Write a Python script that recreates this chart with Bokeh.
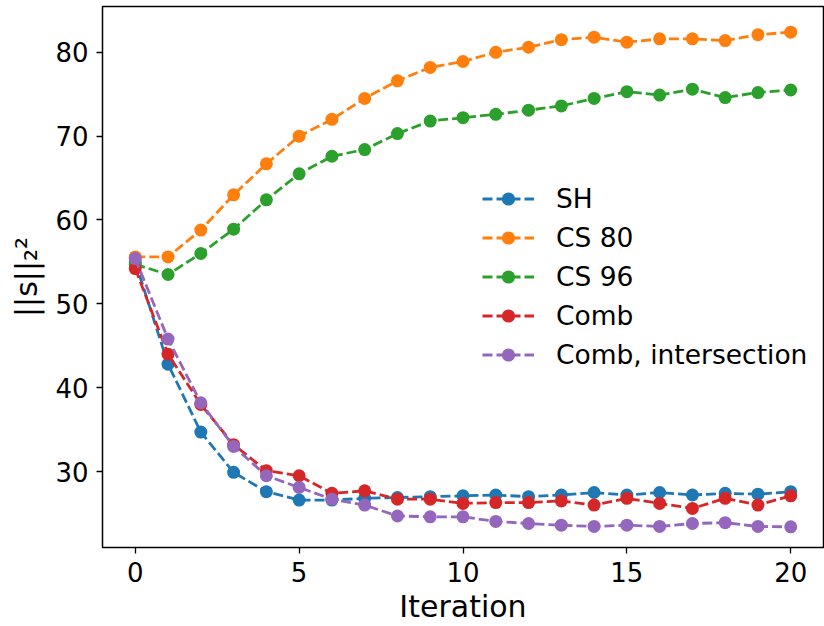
from bokeh.plotting import figure
from bokeh.models import Range1d, FixedTicker, Legend, LegendItem
from bokeh.embed import file_html
from bokeh.resources import INLINE

iterations = list(range(21))
sh = [55.0, 42.8, 34.7, 29.9, 27.6, 26.6, 26.6, 26.8, 26.9, 27.0, 27.1,
      27.2, 27.0, 27.2, 27.5, 27.2, 27.5, 27.2, 27.4, 27.3, 27.6]
cs80 = [55.6, 55.6, 58.8, 63.0, 66.7, 70.0, 72.0, 74.5, 76.6, 78.2, 78.9,
        80.0, 80.6, 81.5, 81.8, 81.2, 81.6, 81.6, 81.4, 82.1, 82.4]
cs96 = [54.7, 53.5, 56.0, 58.9, 62.4, 65.5, 67.6, 68.4, 70.3, 71.8, 72.2,
        72.6, 73.1, 73.6, 74.5, 75.3, 74.9, 75.6, 74.6, 75.2, 75.5]
comb = [54.2, 44.0, 38.0, 33.2, 30.1, 29.5, 27.4, 27.7, 26.7, 26.7, 26.2,
        26.3, 26.3, 26.5, 26.0, 26.8, 26.2, 25.6, 26.8, 26.0, 27.1]
comb_int = [55.4, 45.8, 38.2, 33.0, 29.5, 28.1, 26.7, 26.0, 24.7, 24.6, 24.6,
            24.05, 23.8, 23.6, 23.45, 23.6, 23.45, 23.8, 23.9, 23.45, 23.4]
series_names = ["SH", "CS 80", "CS 96", "Comb", "Comb, intersection"]
series_values = [sh, cs80, cs96, comb, comb_int]
colors = ["#1f77b4", "#ff7f0e", "#2ca02c", "#d62728", "#9467bd"]
x_ticks = [0, 5, 10, 15, 20]
y_ticks = [30, 40, 50, 60, 70, 80]
x_label = "Iteration"
y_label = "||s||₂²"

FONT = "DejaVu Sans"

p = figure(width=824, height=626, output_backend="svg", toolbar_location=None,
           x_range=Range1d(-1, 21), y_range=Range1d(20.94, 85.46),
           min_border_left=102, min_border_right=1, min_border_top=6,
           min_border_bottom=77)
p.background_fill_color = "white"
p.border_fill_color = "white"
p.outline_line_color = "black"
p.outline_line_width = 1.5
p.xgrid.visible = False
p.ygrid.visible = False

p.xaxis.ticker = FixedTicker(ticks=x_ticks)
p.yaxis.ticker = FixedTicker(ticks=y_ticks)
for ax in (p.xaxis, p.yaxis):
    ax.axis_line_color = None
    ax.major_tick_line_color = "black"
    ax.major_tick_line_width = 1.3
    ax.major_tick_out = 6
    ax.major_tick_in = 0
    ax.minor_tick_line_color = None
    ax.major_label_text_font = FONT
    ax.major_label_text_font_size = "26px"
    ax.major_label_text_color = "black"
    ax.axis_label_text_font = FONT
    ax.axis_label_text_font_size = "30px"
    ax.axis_label_text_font_style = "normal"
    ax.axis_label_text_color = "black"

p.xaxis.major_label_standoff = 8
p.yaxis.major_label_standoff = 8
p.xaxis.axis_label = x_label
p.xaxis.axis_label_standoff = 4
p.yaxis.axis_label = y_label
p.yaxis.axis_label_standoff = 8

items = []
for name, vals, col in zip(series_names, series_values, colors):
    lr = p.line(iterations, vals, line_color=col, line_width=2.8, line_dash="10 4")
    sr = p.scatter(iterations, vals, marker="circle", size=13, fill_color=col,
                   line_color=col, line_width=0)
    items.append(LegendItem(label=name, renderers=[lr, sr]))

legend = Legend(items=items, location=(380, 176), orientation="vertical",
                border_line_color=None, background_fill_alpha=0,
                padding=0, margin=0, spacing=6,
                glyph_width=52, glyph_height=33, label_height=33,
                label_standoff=22,
                label_text_font=FONT, label_text_font_size="26.5px",
                label_text_color="black")
p.add_layout(legend, "center")

open("out.html", "w").write(file_html(p, INLINE))
